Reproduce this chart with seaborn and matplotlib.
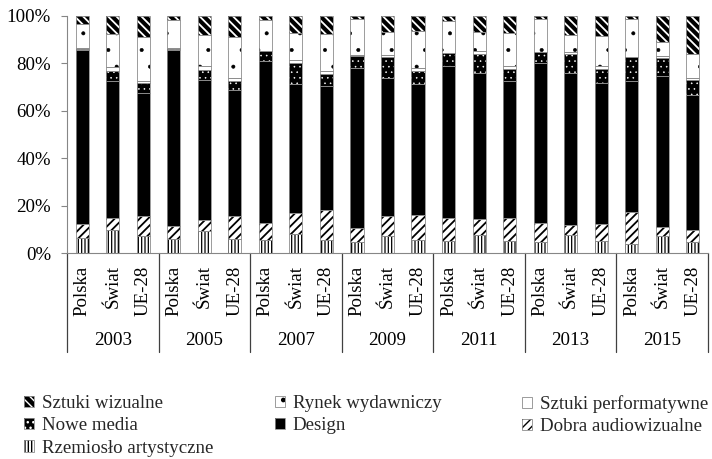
import numpy as np
import matplotlib
matplotlib.use("Agg")
import matplotlib.pyplot as plt
import matplotlib.patches as mpatches
from matplotlib.ticker import FuncFormatter
import seaborn as sns

# Categories: three regions for each year
years = ["2003", "2005", "2007", "2009", "2011", "2013", "2015"]
regions = ["Polska", "Świat", "UE-28"]

# Shares (%) of creative goods trade by sector, ordered year by year: Polska, Świat, UE-28
rzemioslo = [6.5, 9.5, 7.0, 6.0, 9.1, 6.0, 5.3, 7.9, 5.6, 4.6, 7.0, 5.5,
             4.9, 7.4, 4.9, 4.6, 7.4, 4.9, 3.7, 7.0, 4.6]
dobra_av = [5.9, 5.2, 8.8, 5.3, 4.9, 9.5, 7.3, 8.9, 12.6, 6.1, 8.4, 10.6,
            10.0, 6.8, 10.0, 8.0, 4.5, 7.5, 13.5, 3.9, 5.2]
design = [73.1, 57.6, 51.6, 74.4, 59.0, 53.3, 68.1, 54.5, 52.0, 67.2, 58.3, 55.2,
          64.0, 61.6, 57.4, 67.4, 63.9, 59.2, 55.1, 63.5, 56.9]
nowe_media = [0.5, 4.2, 4.2, 0.3, 4.2, 3.5, 4.3, 8.7, 5.3, 5.1, 8.8, 5.6,
              5.2, 8.1, 5.3, 4.6, 8.0, 5.9, 10.2, 7.7, 6.3]
performatywne = [0.3, 1.7, 0.7, 0.3, 1.7, 1.4, 0.3, 1.4, 1.0, 0.5, 1.0, 1.0,
                 0.3, 1.4, 1.3, 0.3, 1.1, 1.1, 0.3, 1.1, 0.7]
rynek = [10.2, 14.0, 18.8, 11.7, 13.0, 17.5, 12.9, 11.2, 15.8, 15.0, 9.8, 15.8,
         13.5, 8.0, 13.7, 13.6, 7.0, 12.9, 15.7, 5.9, 10.1]
wizualne = [3.5, 7.8, 8.9, 2.0, 8.1, 8.8, 1.8, 7.4, 7.7, 1.5, 6.7, 6.3,
            2.1, 6.7, 7.4, 1.5, 8.1, 8.5, 1.5, 10.9, 16.2]

sns.set_theme(style="white")
plt.rcParams["font.family"] = ["Liberation Serif", "DejaVu Serif"]
plt.rcParams["hatch.linewidth"] = 1.0

FS = 13.6
EDGE = "#8c8c8c"
AXIS = "#868686"
PER_PATCH_HATCH_LW = hasattr(mpatches.Patch, "set_hatch_linewidth")


def style(face, hatch=None, hcolor="black", hlw=None):
    kw = {"facecolor": face, "linewidth": 0}
    if hatch:
        kw["hatch"] = hatch
        kw["edgecolor"] = hcolor
        if hlw is not None and PER_PATCH_HATCH_LW:
            kw["hatch_linewidth"] = hlw
    else:
        kw["edgecolor"] = face
    return kw


# Stacked from the bottom up
series = [
    ("Rzemiosło artystyczne", rzemioslo, style("white", "|||||", "black", 0.9)),
    ("Dobra audiowizualne", dobra_av, style("white", "////", "black", 1.3)),
    ("Design", design, style("black")),
    ("Nowe media", nowe_media, style("black", "...", "white", 0.4)),
    ("Sztuki performatywne", performatywne, style("white")),
    ("Rynek wydawniczy", rynek, style("white", ".", "black", 0.4)),
    ("Sztuki wizualne", wizualne, style("black", "\\\\\\\\", "white", 1.3)),
]

fig = plt.figure(figsize=(7.12, 4.59), dpi=100)
ax = fig.add_axes([67 / 712, 1 - 253 / 459, (708 - 67) / 712, (253 - 15.7) / 459])

pos = np.arange(len(years) * len(regions))
bottom = np.zeros(len(pos))
for name, vals, kw in series:
    vals = np.asarray(vals, dtype=float)
    # filled, patterned segment
    sns.barplot(x=pos, y=vals, bottom=bottom, ax=ax, color=kw["facecolor"],
                saturation=1, width=0.43, errorbar=None, **kw)
    # thin grey outline of the same segment
    sns.barplot(x=pos, y=vals, bottom=bottom, ax=ax, color=EDGE, fill=False,
                linewidth=0.6, width=0.43, errorbar=None)
    bottom = bottom + vals

ax.set_xlim(-0.5, len(pos) - 0.5)
ax.set_ylim(0, 100)
ax.set_yticks(range(0, 101, 20))
ax.yaxis.set_major_formatter(FuncFormatter(lambda v, _: f"{v:.0f}%"))
ax.set_xticks(pos)
ax.set_xticklabels(regions * len(years))
ax.set_xlabel("")
ax.set_ylabel("")

for side in ("top", "right"):
    ax.spines[side].set_visible(False)
for side in ("left", "bottom"):
    ax.spines[side].set_color(AXIS)
    ax.spines[side].set_linewidth(0.8)

ax.tick_params(axis="y", direction="out", length=4.5, width=0.8, color=AXIS,
               pad=7, labelsize=FS, labelcolor="black", left=True)
ax.tick_params(axis="x", length=0, pad=9, labelsize=FS, labelrotation=90,
               labelcolor="black")

# Year group separators and labels beneath the region labels
xt = ax.get_xaxis_transform()
sep_depth = (352 - 253) / (253 - 15.7)
for g in range(len(years) + 1):
    xs = g * 3 - 0.5
    ax.plot([xs, xs], [0, -sep_depth], transform=xt, clip_on=False,
            color="#404040", lw=0.9)
year_y = -(341 - 253) / (253 - 15.7)
for g, yr in enumerate(years):
    ax.text(g * 3 + 1, year_y, yr, transform=xt, ha="center", va="center",
            fontsize=FS, color="black")

# Legend in three columns; each key is the pattern plus a grey outline
handles = {}
for name, vals, kw in series:
    fill = mpatches.Patch(**kw)
    outline = mpatches.Patch(facecolor="none", edgecolor=EDGE, linewidth=0.6)
    handles[name] = (fill, outline)

columns = [
    (24, ["Sztuki wizualne", "Nowe media", "Rzemiosło artystyczne"]),
    (275, ["Rynek wydawniczy", "Design"]),
    (522, ["Sztuki performatywne", "Dobra audiowizualne"]),
]
for x0, names in columns:
    fig.legend(handles=[handles[n] for n in names], labels=names,
               loc="upper left", bbox_to_anchor=(x0 / 712, 1 - 395 / 459),
               frameon=False, fontsize=FS, borderpad=0, borderaxespad=0,
               handlelength=0.55, handleheight=0.55, handletextpad=0.4,
               labelspacing=0.28)

fig.savefig("out.png", dpi=100)
